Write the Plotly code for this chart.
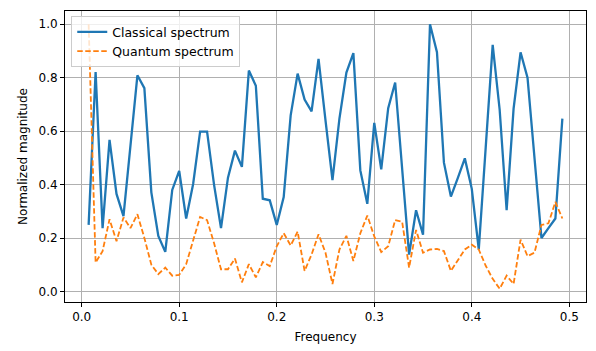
import numpy as np
import plotly.graph_objects as go

# Frequency grid: positive FFT bins of a 140-sample signal (k = 1..69)
freq = np.fft.rfftfreq(140)[1:70]

classical = [0.249, 0.821, 0.237, 0.567, 0.365, 0.282, 0.545, 0.809, 0.761, 0.371,
             0.208, 0.148, 0.380, 0.451, 0.273, 0.402, 0.598, 0.598, 0.400, 0.237,
             0.426, 0.527, 0.466, 0.827, 0.770, 0.347, 0.341, 0.249, 0.353, 0.659,
             0.815, 0.718, 0.674, 0.870, 0.640, 0.417, 0.647, 0.819, 0.892, 0.453,
             0.328, 0.631, 0.457, 0.686, 0.782, 0.460, 0.138, 0.304, 0.212, 1.000,
             0.895, 0.482, 0.355, 0.425, 0.498, 0.384, 0.157, 0.540, 0.923, 0.680,
             0.304, 0.684, 0.895, 0.800, 0.500, 0.200, 0.237, 0.273, 0.647]

quantum = [1.000, 0.108, 0.151, 0.270, 0.188, 0.277, 0.237, 0.289, 0.200, 0.100,
           0.065, 0.089, 0.059, 0.062, 0.102, 0.194, 0.279, 0.267, 0.181, 0.083,
           0.083, 0.123, 0.034, 0.102, 0.053, 0.110, 0.095, 0.169, 0.218, 0.172,
           0.224, 0.077, 0.138, 0.214, 0.145, 0.028, 0.157, 0.208, 0.114, 0.218,
           0.284, 0.206, 0.147, 0.169, 0.267, 0.261, 0.089, 0.230, 0.145, 0.157,
           0.159, 0.151, 0.077, 0.117, 0.157, 0.175, 0.157, 0.096, 0.047, 0.010,
           0.059, 0.028, 0.194, 0.132, 0.145, 0.249, 0.255, 0.335, 0.273]

x_ticks = [0.0, 0.1, 0.2, 0.3, 0.4, 0.5]
y_ticks = [0.0, 0.2, 0.4, 0.6, 0.8, 1.0]

fig = go.Figure()
fig.add_trace(go.Scatter(x=freq, y=classical, mode="lines", name="Classical spectrum",
                         line=dict(color="#1f77b4", width=2.3)))
fig.add_trace(go.Scatter(x=freq, y=quantum, mode="lines", name="Quantum spectrum",
                         line=dict(color="#ff7f0e", width=1.8, dash="5.5px,2.5px")))

axis_common = dict(showline=True, linecolor="black", linewidth=1, mirror=True,
                   ticks="outside", ticklen=4, tickcolor="black", tickwidth=1,
                   showgrid=True, gridcolor="#b0b0b0", gridwidth=0.8, zeroline=False,
                   tickfont=dict(family="DejaVu Sans", size=12, color="black"))

fig.update_layout(
    width=596, height=351,
    margin=dict(l=65, r=9, t=11, b=43),
    paper_bgcolor="white", plot_bgcolor="white",
    font=dict(family="DejaVu Sans", size=12, color="black"),
    xaxis=dict(range=[-0.0171, 0.5171], tickvals=x_ticks,
               ticktext=[f"{v:.1f}" for v in x_ticks],
               title=dict(text="Frequency", standoff=9,
                          font=dict(family="DejaVu Sans", size=12)),
               **axis_common),
    yaxis=dict(range=[-0.0395, 1.0495], tickvals=y_ticks,
               ticktext=[f"{v:.1f}" for v in y_ticks],
               title=dict(text="Normalized magnitude", standoff=8,
                          font=dict(family="DejaVu Sans", size=12)),
               **axis_common),
    legend=dict(x=0.012, y=0.982, xanchor="left", yanchor="top",
                bgcolor="rgba(255,255,255,0.8)", bordercolor="#cccccc", borderwidth=1,
                font=dict(family="DejaVu Sans", size=12.5), tracegroupgap=0,
                itemwidth=30),
    showlegend=True,
)

fig.write_html("out.html")
